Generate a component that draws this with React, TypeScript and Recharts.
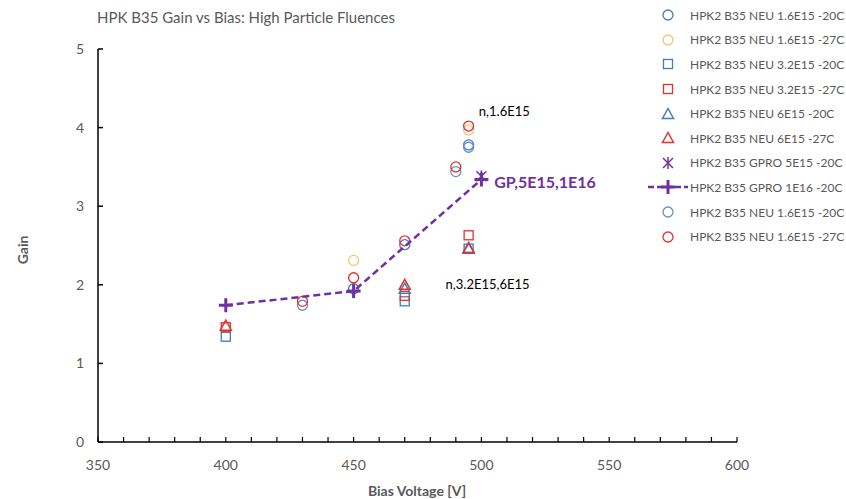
import { ComposedChart, Scatter, XAxis, YAxis, ReferenceDot } from "recharts";

const FONT = "Lato, 'Open Sans', sans-serif";
const GRAY = "#595959";

// tick values
const xTicks = [350, 360, 370, 380, 390, 400, 410, 420, 430, 440, 450, 460, 470, 480, 490, 500, 510, 520, 530, 540, 550, 560, 570, 580, 590, 600];
const yTicks = [0, 1, 2, 3, 4, 5];

// series values
const neu16m20 = [
  { x: 450, y: 1.95 },
  { x: 470, y: 2.51 },
  { x: 495, y: 3.78 },
];
const neu16m27 = [
  { x: 450, y: 2.31 },
  { x: 495, y: 3.97 },
];
const neu32m20 = [
  { x: 400, y: 1.34 },
  { x: 470, y: 1.79 },
  { x: 495, y: 2.46 },
];
const neu32m27 = [
  { x: 400, y: 1.46 },
  { x: 470, y: 1.86 },
  { x: 495, y: 2.63 },
];
const neu6m20 = [
  { x: 470, y: 1.95 },
  { x: 495, y: 2.47 },
];
const neu6m27 = [
  { x: 400, y: 1.48 },
  { x: 470, y: 2.0 },
  { x: 495, y: 2.46 },
];
const gpro5m20 = [{ x: 500, y: 3.38 }];
const gpro1e16m20 = [
  { x: 400, y: 1.74 },
  { x: 450, y: 1.92 },
  { x: 500, y: 3.34 },
];
const neu16m20b = [
  { x: 430, y: 1.74 },
  { x: 490, y: 3.44 },
  { x: 495, y: 3.75 },
];
const neu16m27b = [
  { x: 430, y: 1.79 },
  { x: 450, y: 2.09 },
  { x: 470, y: 2.56 },
  { x: 490, y: 3.5 },
  { x: 495, y: 4.02 },
];

const BLUE = "#3E7DC0";
const ORANGE = "#F5C67C";
const RED = "#E2322E";
const PURPLE = "#7030A0";
const BLUE2 = "#6A8FC6";

type Kind = "circle" | "square" | "triangle" | "star" | "plus";

function Marker({ kind, cx, cy, color }: { kind: Kind; cx: number; cy: number; color: string }) {
  if (kind === "circle")
    return <circle cx={cx} cy={cy} r={5} fill="none" stroke={color} strokeWidth={1.3} />;
  if (kind === "square")
    return <rect x={cx - 4.5} y={cy - 4.5} width={9} height={9} fill="none" stroke={color} strokeWidth={1.3} />;
  if (kind === "triangle")
    return (
      <polygon
        points={`${cx},${cy - 5.5} ${cx + 5.5},${cy + 4.5} ${cx - 5.5},${cy + 4.5}`}
        fill="none"
        stroke={color}
        strokeWidth={1.5}
      />
    );
  if (kind === "star")
    return (
      <g stroke={color} strokeWidth={1.5}>
        <line x1={cx - 5} y1={cy - 5} x2={cx + 5} y2={cy + 5} />
        <line x1={cx - 5} y1={cy + 5} x2={cx + 5} y2={cy - 5} />
        <line x1={cx} y1={cy - 6} x2={cx} y2={cy + 6} />
      </g>
    );
  return (
    <g stroke={color} strokeWidth={3}>
      <line x1={cx - 7} y1={cy} x2={cx + 7} y2={cy} />
      <line x1={cx} y1={cy - 7} x2={cx} y2={cy + 7} />
    </g>
  );
}

const shape = (kind: Kind, color: string) => (p: any) => <Marker kind={kind} cx={p.cx} cy={p.cy} color={color} />;

const legendItems: { name: string; kind: Kind; color: string; line?: boolean }[] = [
  { name: "HPK2 B35 NEU 1.6E15 -20C", kind: "circle", color: BLUE },
  { name: "HPK2 B35 NEU 1.6E15 -27C", kind: "circle", color: ORANGE },
  { name: "HPK2 B35 NEU 3.2E15 -20C", kind: "square", color: BLUE },
  { name: "HPK2 B35 NEU 3.2E15 -27C", kind: "square", color: RED },
  { name: "HPK2 B35 NEU 6E15 -20C", kind: "triangle", color: BLUE },
  { name: "HPK2 B35 NEU 6E15 -27C", kind: "triangle", color: RED },
  { name: "HPK2 B35 GPRO 5E15 -20C", kind: "star", color: PURPLE },
  { name: "HPK2 B35 GPRO 1E16 -20C", kind: "plus", color: PURPLE, line: true },
  { name: "HPK2 B35 NEU 1.6E15 -20C", kind: "circle", color: BLUE2 },
  { name: "HPK2 B35 NEU 1.6E15 -27C", kind: "circle", color: RED },
];

const XTick = (p: any) => {
  const v = p.payload.value;
  return (
    <g>
      <line x1={p.x} y1={p.y} x2={p.x} y2={p.y - 5} stroke="#000" strokeWidth={1.2} />
      {v % 50 === 0 && (
        <text x={p.x} y={p.y + 28} textAnchor="middle" fill={GRAY} fontSize={14} fontFamily={FONT}>
          {v}
        </text>
      )}
    </g>
  );
};

const YTick = (p: any) => (
  <g>
    <line x1={p.x} y1={p.y} x2={p.x + 5} y2={p.y} stroke="#000" strokeWidth={1.5} />
    <text x={p.x - 14} y={p.y + 5} textAnchor="end" fill={GRAY} fontSize={14} fontFamily={FONT}>
      {p.payload.value}
    </text>
  </g>
);

export default function App() {
  return (
    <div style={{ position: "absolute", left: 0, top: 0, width: 846, height: 499, background: "#fff", fontFamily: FONT }}>
      <ComposedChart width={846} height={499} margin={{ top: 49, right: 109, bottom: 27, left: 58 }}>
        <XAxis
          type="number"
          dataKey="x"
          domain={[350, 600]}
          ticks={xTicks}
          interval={0}
          height={30}
          tickSize={0}
          tickMargin={0}
          tickLine={false}
          tick={XTick}
          axisLine={{ stroke: "#000", strokeWidth: 1.5 }}
          allowDataOverflow
        />
        <YAxis
          type="number"
          dataKey="y"
          domain={[0, 5]}
          ticks={yTicks}
          interval={0}
          width={40}
          tickSize={0}
          tickMargin={0}
          tickLine={false}
          tick={YTick}
          axisLine={{ stroke: "#000", strokeWidth: 1.5 }}
        />
        <Scatter data={neu16m20} shape={shape("circle", BLUE)} isAnimationActive={false} />
        <Scatter data={neu16m27} shape={shape("circle", ORANGE)} isAnimationActive={false} />
        <Scatter data={neu32m20} shape={shape("square", BLUE)} isAnimationActive={false} />
        <Scatter data={neu32m27} shape={shape("square", RED)} isAnimationActive={false} />
        <Scatter data={neu6m20} shape={shape("triangle", BLUE)} isAnimationActive={false} />
        <Scatter data={neu6m27} shape={shape("triangle", RED)} isAnimationActive={false} />
        <Scatter data={neu16m20b} shape={shape("circle", BLUE2)} isAnimationActive={false} />
        <Scatter data={neu16m27b} shape={shape("circle", RED)} isAnimationActive={false} />
        <Scatter
          data={gpro1e16m20}
          shape={shape("plus", PURPLE)}
          line={{ stroke: PURPLE, strokeWidth: 2.5, strokeDasharray: "7 4" }}
          isAnimationActive={false}
        />
        <Scatter data={gpro5m20} shape={shape("star", PURPLE)} isAnimationActive={false} />
        <ReferenceDot
          x={499}
          y={4.2}
          r={0}
          stroke="none"
          label={{ value: "n,1.6E15", position: "right", offset: 0, fill: "#000", fontSize: 13, fontFamily: FONT }}
        />
        <ReferenceDot
          x={505}
          y={3.31}
          r={0}
          stroke="none"
          label={{ value: "GP,5E15,1E16", position: "right", offset: 0, fill: PURPLE, fontSize: 16, fontWeight: 700, fontFamily: FONT }}
        />
        <ReferenceDot
          x={486}
          y={2.01}
          r={0}
          stroke="none"
          label={{ value: "n,3.2E15,6E15", position: "right", offset: 0, fill: "#000", fontSize: 13, fontFamily: FONT }}
        />
      </ComposedChart>

      <div style={{ position: "absolute", left: 97, top: 8, fontSize: 15, color: GRAY, whiteSpace: "nowrap" }}>
        HPK B35 Gain vs Bias: High Particle Fluences
      </div>
      <div
        style={{
          position: "absolute",
          left: 22,
          top: 250,
          transform: "translate(-50%, -50%) rotate(-90deg)",
          fontSize: 14,
          fontWeight: 700,
          color: GRAY,
        }}
      >
        Gain
      </div>
      <div
        style={{
          position: "absolute",
          left: 417,
          top: 490,
          transform: "translate(-50%, -50%)",
          fontSize: 14,
          fontWeight: 700,
          color: GRAY,
          whiteSpace: "nowrap",
        }}
      >
        Bias Voltage [V]
      </div>

      <div style={{ position: "absolute", left: 646, top: 3 }}>
        {legendItems.map((it, i) => (
          <div key={i} style={{ display: "flex", alignItems: "center", height: 24.6 }}>
            <svg width={44} height={20}>
              {it.line && <line x1={2} y1={10} x2={42} y2={10} stroke={it.color} strokeWidth={2.5} strokeDasharray="6 3" />}
              <Marker kind={it.kind} cx={22} cy={10} color={it.color} />
            </svg>
            <span style={{ fontSize: 12, color: GRAY, whiteSpace: "nowrap" }}>{it.name}</span>
          </div>
        ))}
      </div>
    </div>
  );
}
